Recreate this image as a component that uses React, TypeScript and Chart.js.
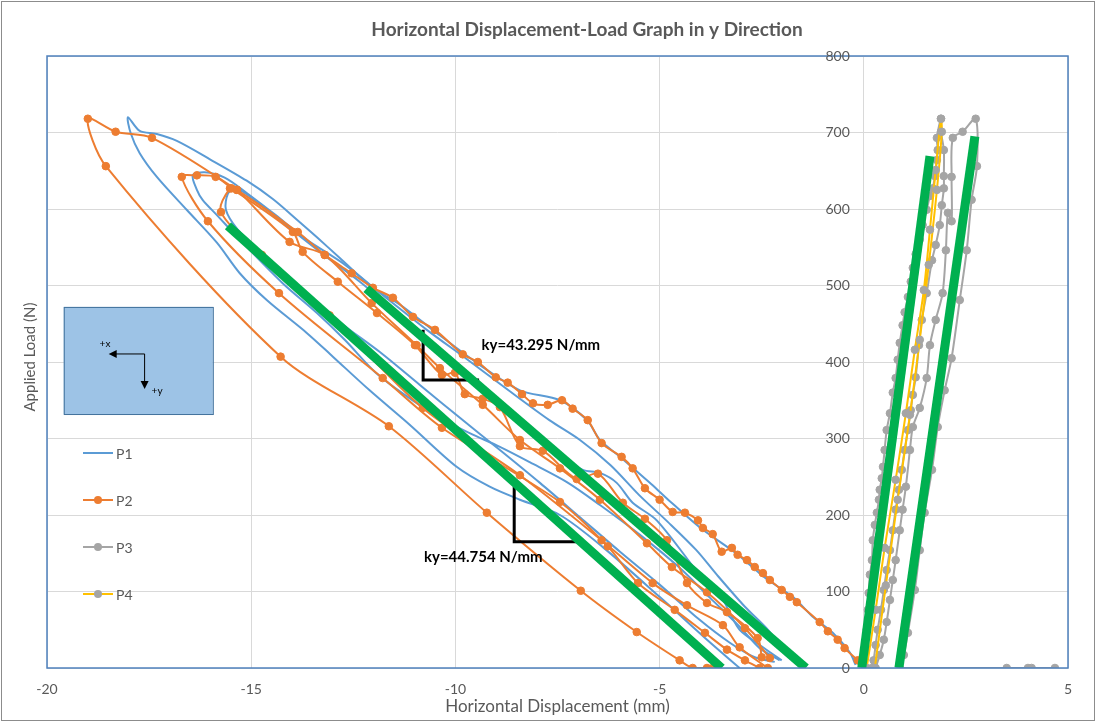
import React, { useEffect, useRef } from 'react';
import { Chart, registerables } from 'chart.js';

Chart.register(...registerables);

type Pt = [number, number];

const chartTitle = 'Horizontal Displacement-Load Graph in y Direction';
const xTitle = 'Horizontal Displacement (mm)';
const yTitle = 'Applied Load (N)';
const xTicks = [-20, -15, -10, -5, 0, 5];
const yTicks = [0, 100, 200, 300, 400, 500, 600, 700, 800];
const seriesNames = ['P1', 'P2', 'P3', 'P4'];

// P1 (blue) - three load/unload loops
const p1LoopA: Pt[] = [
  [-2.01, 10], [-2.55, 30], [-3.04, 50], [-3.28, 72], [-3.45, 89], [-4.02, 122], [-5.07, 193], [-5.66, 216],
  [-6.05, 242], [-6.46, 255], [-6.88, 259], [-7.44, 278], [-8.42, 324], [-9.40, 370], [-10.38, 416], [-11.36, 461],
  [-12.34, 505], [-13.32, 544], [-14.06, 575], [-14.67, 601], [-15.16, 621], [-15.40, 626], [-15.57, 620],
  [-15.62, 599], [-15.33, 573], [-14.74, 542], [-13.81, 498], [-12.83, 452], [-11.85, 413], [-10.87, 370],
  [-9.89, 327], [-8.91, 285], [-7.93, 242], [-6.95, 197], [-5.97, 152], [-5.00, 109], [-4.02, 63], [-3.28, 33],
  [-2.67, 14], [-2.18, 8],
];
const p1LoopB: Pt[] = [
  [-1.81, 13], [-2.35, 50], [-2.91, 80], [-3.60, 122], [-4.10, 154], [-4.80, 191], [-5.50, 226], [-6.20, 265],
  [-6.95, 298], [-7.70, 324], [-8.70, 363], [-9.70, 403], [-10.70, 442], [-11.70, 484], [-12.70, 527],
  [-13.70, 562], [-14.40, 592], [-15.11, 621], [-15.65, 641], [-16.14, 648], [-16.43, 644],
  [-16.33, 625], [-16.19, 612], [-15.84, 592], [-15.21, 556], [-14.23, 503], [-13.39, 464], [-12.71, 429],
  [-11.97, 387], [-11.24, 357], [-10.38, 327], [-9.65, 307], [-8.91, 289], [-8.18, 269], [-7.27, 243],
  [-6.46, 213], [-5.48, 174], [-4.51, 131], [-3.77, 92], [-3.04, 54], [-2.55, 26], [-2.06, 10],
];
const p1LoopC: Pt[] = [
  [-0.20, 4], [-0.34, 20], [-0.76, 46], [-1.25, 67], [-1.74, 93], [-2.42, 118], [-3.13, 150], [-4.02, 184],
  [-4.87, 224], [-5.24, 242], [-5.97, 276], [-6.46, 298], [-6.78, 324], [-7.44, 350], [-8.42, 363], [-9.40, 396],
  [-10.46, 438], [-11.36, 475], [-12.02, 497], [-12.83, 536], [-13.39, 563], [-13.88, 586], [-14.47, 613],
  [-15.11, 637], [-16.01, 665], [-16.82, 689], [-17.31, 698], [-17.73, 702], [-18.02, 720],
  [-17.95, 699], [-17.73, 673], [-17.31, 642], [-16.58, 599], [-15.84, 556], [-15.28, 516], [-14.62, 481],
  [-13.64, 438], [-13.00, 407], [-12.10, 363], [-11.12, 318], [-9.97, 263], [-9.16, 237], [-8.42, 220],
  [-7.44, 200], [-6.39, 158], [-5.00, 93], [-3.84, 37], [-3.04, 0],
];

// P2 (orange) - loops with markers
const p2LoopA: Pt[] = [
  [-0.15, 10], [-0.47, 26], [-0.64, 37], [-0.88, 48], [-1.08, 60], [-1.64, 86], [-1.81, 93], [-2.01, 102],
  [-2.30, 115], [-2.47, 124], [-2.67, 132], [-2.86, 141], [-3.09, 148], [-3.23, 157], [-3.48, 152], [-3.70, 175],
  [-3.94, 183], [-4.06, 193], [-4.38, 203], [-4.68, 204], [-5.00, 220], [-5.36, 235], [-5.66, 261], [-5.93, 276],
  [-6.42, 294], [-6.76, 324], [-7.13, 339], [-7.39, 350], [-7.74, 344], [-8.10, 346], [-8.37, 358], [-8.72, 373],
  [-9.01, 380], [-9.45, 400], [-9.82, 410], [-10.50, 442], [-11.04, 459], [-11.53, 484], [-12.02, 497],
  [-12.54, 516], [-13.20, 540], [-13.86, 570], [-15.35, 625], [-17.43, 693], [-18.32, 701], [-19.00, 718],
  [-18.56, 656], [-14.28, 407], [-11.63, 316], [-9.23, 203], [-6.93, 101], [-5.56, 47], [-4.51, 10],
  [-4.19, 0], [-3.84, 0], [-3.70, 0],
];
const p2LoopB: Pt[] = [
  [-2.50, 14], [-2.60, 39], [-3.35, 73], [-3.84, 85], [-4.33, 111], [-4.82, 167], [-5.36, 195], [-5.90, 216],
  [-6.51, 254], [-7.03, 247], [-7.86, 284], [-8.42, 290], [-8.91, 341], [-9.33, 352], [-9.77, 358], [-10.01, 386],
  [-10.33, 383], [-10.99, 422], [-11.92, 464], [-12.88, 505], [-13.74, 544], [-13.98, 570], [-15.48, 627],
  [-15.87, 642], [-16.33, 644], [-16.70, 642],
  [-16.06, 584], [-14.32, 490], [-11.78, 379], [-10.33, 314], [-7.44, 217], [-6.27, 159], [-5.53, 111],
  [-4.63, 76], [-3.89, 46], [-3.35, 24], [-2.91, 10], [-2.55, 0],
];
const p2LoopC: Pt[] = [
  [-2.30, 13], [-2.91, 52], [-3.84, 99], [-4.70, 132], [-5.31, 163], [-6.46, 220], [-7.44, 261], [-8.42, 298],
  [-9.33, 344], [-10.38, 392], [-10.95, 422], [-12.05, 477], [-13.20, 540], [-14.06, 557], [-15.35, 625],
  [-15.52, 627], [-15.74, 596], [-14.74, 540], [-13.08, 461], [-10.80, 340], [-8.42, 252], [-6.42, 167],
  [-5.17, 111], [-4.33, 82], [-3.45, 56], [-3.04, 27], [-2.35, 0],
];

// P3 (grey)
const p3LoopA: Pt[] = [
  [0.05, 0], [0.05, 24], [0.07, 50], [0.10, 76], [0.12, 98], [0.15, 122], [0.20, 141], [0.22, 167], [0.27, 187],
  [0.32, 203], [0.37, 220], [0.39, 233], [0.44, 248], [0.47, 263], [0.51, 285], [0.56, 311], [0.64, 333],
  [0.71, 360], [0.78, 379], [0.83, 403], [0.88, 425], [0.95, 448], [1.00, 465], [1.08, 485], [1.15, 505],
  [1.20, 523], [1.27, 541], [1.37, 560], [1.44, 579], [1.54, 599], [1.62, 617], [1.69, 627], [1.74, 643],
  [1.79, 664], [1.81, 677], [1.79, 693], [1.89, 718],
  [1.89, 701], [1.96, 677], [1.96, 643], [1.96, 627], [1.91, 605], [1.86, 579], [1.76, 553], [1.67, 533],
  [1.54, 490], [1.42, 455], [1.35, 422], [1.27, 380], [1.20, 357], [1.15, 337], [1.08, 311], [1.00, 285],
  [0.93, 259], [0.86, 233], [0.78, 207], [0.71, 180], [0.64, 154], [0.56, 128], [0.49, 102], [0.42, 76],
  [0.34, 50], [0.29, 30], [0.24, 10], [0.20, 0],
];
const p3LoopB: Pt[] = [
  [0.29, 0], [0.39, 17], [0.49, 37], [0.56, 60], [0.64, 89], [0.71, 115], [0.78, 141], [0.88, 180], [0.95, 207],
  [1.03, 237], [1.13, 285], [1.20, 315], [1.37, 340], [1.54, 379], [1.62, 422], [1.76, 455], [1.93, 490],
  [2.01, 546], [2.06, 595], [2.15, 584], [2.15, 642], [2.18, 693], [2.42, 701], [2.74, 718],
  [2.77, 656], [2.64, 612], [2.52, 546], [2.35, 481], [2.15, 405], [1.98, 363], [1.81, 315], [1.67, 259],
  [1.49, 203], [1.37, 154], [1.25, 102], [1.08, 46], [0.98, 17], [0.88, 0], [3.50, 0], [4.02, 0], [4.11, 0],
  [4.68, 0],
];

// P4 (yellow line)
const p4Loop: Pt[] = [
  [0.07, 0], [0.29, 76], [0.51, 157], [0.78, 246], [1.03, 333], [1.25, 416], [1.47, 494], [1.62, 573],
  [1.76, 651], [1.89, 718],
  [1.91, 701], [1.79, 625], [1.59, 527], [1.37, 429], [1.13, 331], [0.83, 220], [0.54, 108], [0.27, 0],
];

// Stiffness fit lines (green) and slope marks (black)
const fitLeftLower: Pt[] = [[-15.57, 578], [-3.48, 0]];
const fitLeftUpper: Pt[] = [[-12.18, 496], [-1.42, 0]];
const fitRightA: Pt[] = [[-0.05, 0], [1.62, 669]];
const fitRightB: Pt[] = [[0.86, 0], [2.72, 695]];
const slopeMarkUpper: Pt[] = [[-10.79, 442], [-10.79, 376.5], [-9.42, 376.5]];
const slopeMarkLower: Pt[] = [[-8.56, 237], [-8.56, 165], [-6.91, 165]];
const stiffnessLabels = ['ky=43.295 N/mm', 'ky=44.754 N/mm'];
const stiffnessLabelAt: Pt[] = [[-9.36, 422], [-10.77, 145]];

const COLORS = { p1: '#5b9bd5', p2: '#ed7d31', p3: '#a5a5a5', p4: '#ffc000', fit: '#00b050' };
const FONT = 'Lato, "Open Sans", sans-serif';

const pts = (a: Pt[]) => a.map(([x, y]) => ({ x, y }));

export default function App() {
  const ref = useRef<HTMLCanvasElement | null>(null);

  useEffect(() => {
    if (!ref.current) return;

    const smooth = (data: Pt[], color: string, order: number, marker: string | null) => ({
      data: pts(data),
      showLine: true,
      borderColor: color,
      backgroundColor: color,
      borderWidth: 2,
      tension: 0.3,
      pointRadius: marker ? 3.8 : 0,
      pointBackgroundColor: marker || color,
      pointBorderColor: marker || color,
      pointBorderWidth: 1,
      order,
    });
    const straight = (data: Pt[], color: string, width: number) => ({
      data: pts(data),
      showLine: true,
      borderColor: color,
      backgroundColor: color,
      borderWidth: width,
      tension: 0,
      pointRadius: 0,
      borderCapStyle: 'butt',
      borderJoinStyle: 'miter',
      order: 0,
    });

    const decor = {
      id: 'decor',
      beforeDraw(chart: any) {
        const c = chart.ctx;
        c.save();
        c.fillStyle = '#ffffff';
        c.fillRect(0, 0, chart.width, chart.height);
        c.restore();
      },
      afterDatasetsDraw(chart: any) {
        const c = chart.ctx;
        const xs = chart.scales.x;
        const ys = chart.scales.y;
        c.save();
        // inset orientation box
        const bx0 = xs.getPixelForValue(-19.59);
        const bx1 = xs.getPixelForValue(-15.94);
        const by0 = ys.getPixelForValue(472);
        const by1 = ys.getPixelForValue(332);
        c.fillStyle = '#9dc3e6';
        c.fillRect(bx0, by0, bx1 - bx0, by1 - by0);
        c.strokeStyle = '#41719c';
        c.lineWidth = 1;
        c.strokeRect(bx0 + 0.5, by0 + 0.5, bx1 - bx0, by1 - by0);
        const cx = xs.getPixelForValue(-17.61);
        const cy = ys.getPixelForValue(410.5);
        const lx = xs.getPixelForValue(-18.49);
        const dy = ys.getPixelForValue(364.7);
        c.strokeStyle = '#000';
        c.fillStyle = '#000';
        c.beginPath();
        c.moveTo(cx, cy);
        c.lineTo(lx + 6, cy);
        c.moveTo(cx, cy);
        c.lineTo(cx, dy - 6);
        c.stroke();
        c.beginPath();
        c.moveTo(lx, cy);
        c.lineTo(lx + 8, cy - 4);
        c.lineTo(lx + 8, cy + 4);
        c.closePath();
        c.fill();
        c.beginPath();
        c.moveTo(cx, dy);
        c.lineTo(cx - 4, dy - 8);
        c.lineTo(cx + 4, dy - 8);
        c.closePath();
        c.fill();
        c.font = `10px ${FONT}`;
        c.textBaseline = 'middle';
        c.textAlign = 'left';
        c.fillText('+x', cx - 45, cy - 10);
        c.fillText('+y', cx + 7, dy + 2);

        // stiffness labels
        c.font = `bold 15px ${FONT}`;
        c.fillStyle = '#000';
        stiffnessLabels.forEach((t, i) => {
          const [vx, vy] = stiffnessLabelAt[i];
          c.fillText(t, xs.getPixelForValue(vx), ys.getPixelForValue(vy));
        });
        c.restore();
      },
      afterDraw(chart: any) {
        const c = chart.ctx;
        const a = chart.chartArea;
        const xs = chart.scales.x;
        const ys = chart.scales.y;
        c.save();
        // plot area border
        c.strokeStyle = '#4f81bd';
        c.lineWidth = 1.5;
        c.strokeRect(a.left, a.top, a.right - a.left, a.bottom - a.top);
        // outer border
        c.strokeStyle = '#8c8c8c';
        c.lineWidth = 1;
        c.strokeRect(1.5, 1.5, chart.width - 3, chart.height - 3);

        // y tick labels at x = 0
        c.fillStyle = '#595959';
        c.font = `14px ${FONT}`;
        c.textAlign = 'right';
        c.textBaseline = 'middle';
        const x0 = xs.getPixelForValue(0);
        yTicks.forEach((v) => c.fillText(String(v), x0 - 14, ys.getPixelForValue(v)));

        // title
        c.font = `bold 19px ${FONT}`;
        c.textAlign = 'center';
        c.fillText(chartTitle, 587, 30);
        // axis titles
        c.font = `17px ${FONT}`;
        c.fillText(xTitle, (a.left + a.right) / 2, 707);
        c.save();
        c.translate(30, 357);
        c.rotate(-Math.PI / 2);
        c.font = `15px ${FONT}`;
        c.fillText(yTitle, 0, 0);
        c.restore();

        // legend
        const legendColors = [
          { line: COLORS.p1, marker: null },
          { line: COLORS.p2, marker: COLORS.p2 },
          { line: COLORS.p3, marker: COLORS.p3 },
          { line: COLORS.p4, marker: COLORS.p3 },
        ];
        const lyStart = a.top + 397;
        seriesNames.forEach((name, i) => {
          const ly = lyStart + i * 47;
          const lx = a.left + 36;
          c.strokeStyle = legendColors[i].line;
          c.lineWidth = 2;
          c.beginPath();
          c.moveTo(lx, ly);
          c.lineTo(lx + 30, ly);
          c.stroke();
          if (legendColors[i].marker) {
            c.fillStyle = legendColors[i].marker as string;
            c.beginPath();
            c.arc(lx + 15, ly, 4, 0, Math.PI * 2);
            c.fill();
          }
          c.fillStyle = '#595959';
          c.font = `14px ${FONT}`;
          c.textAlign = 'left';
          c.fillText(name, lx + 33, ly + 1);
        });
        c.restore();
      },
    };

    const chart = new Chart(ref.current, {
      type: 'scatter',
      data: {
        datasets: [
          straight(fitLeftLower, COLORS.fit, 9),
          straight(fitLeftUpper, COLORS.fit, 9),
          straight(fitRightA, COLORS.fit, 9),
          straight(fitRightB, COLORS.fit, 9),
          straight(slopeMarkUpper, '#000000', 3),
          straight(slopeMarkLower, '#000000', 3),
          smooth(p4Loop, COLORS.p4, 1, COLORS.p3),
          smooth(p3LoopA, COLORS.p3, 2, COLORS.p3),
          smooth(p3LoopB, COLORS.p3, 2, COLORS.p3),
          smooth(p2LoopA, COLORS.p2, 3, COLORS.p2),
          smooth(p2LoopB, COLORS.p2, 3, COLORS.p2),
          smooth(p2LoopC, COLORS.p2, 3, COLORS.p2),
          smooth(p1LoopA, COLORS.p1, 4, null),
          smooth(p1LoopB, COLORS.p1, 4, null),
          smooth(p1LoopC, COLORS.p1, 4, null),
        ] as any,
      },
      options: {
        responsive: false,
        animation: false,
        devicePixelRatio: 1,
        layout: { padding: { left: 47, top: 56, right: 28, bottom: 0 } },
        plugins: {
          legend: { display: false },
          tooltip: { enabled: false },
          title: { display: false },
        },
        scales: {
          x: {
            type: 'linear',
            min: -20,
            max: 5,
            afterBuildTicks: (s: any) => {
              s.ticks = xTicks.map((v) => ({ value: v }));
            },
            afterFit: (s: any) => {
              s.height = 54;
            },
            grid: { color: '#d9d9d9', drawTicks: false },
            border: { display: false },
            ticks: {
              color: '#595959',
              font: { family: FONT, size: 14 },
              padding: 13,
              maxRotation: 0,
              autoSkip: false,
              callback: (v: any) => String(v),
            },
          },
          y: {
            type: 'linear',
            min: 0,
            max: 800,
            afterBuildTicks: (s: any) => {
              s.ticks = yTicks.map((v) => ({ value: v }));
            },
            afterFit: (s: any) => {
              s.width = 0;
            },
            grid: { color: '#d9d9d9', drawTicks: false },
            border: { display: false },
            ticks: { display: false },
          },
        },
      } as any,
      plugins: [decor],
    });

    return () => chart.destroy();
  }, []);

  return (
    <div style={{ position: 'fixed', left: 0, top: 0, width: 1096, height: 722, background: '#fff' }}>
      <canvas ref={ref} width={1096} height={722} style={{ display: 'block' }} />
    </div>
  );
}
